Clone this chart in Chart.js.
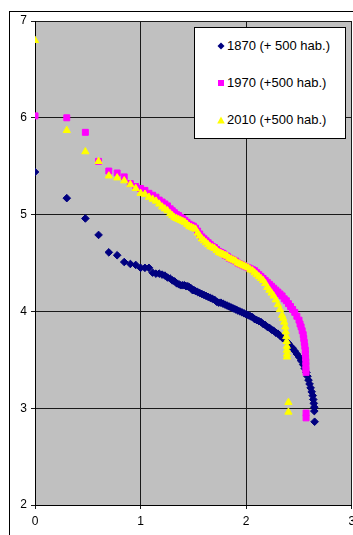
<!DOCTYPE html>
<html>
<head>
<meta charset="utf-8">
<script src="https://cdn.jsdelivr.net/npm/chart.js@4.4.1/dist/chart.umd.min.js"></script>
<style>
  html, body { margin: 0; padding: 0; background: #fff; overflow: hidden; }
  body { width: 353px; height: 535px; position: relative; font-family: "Liberation Sans", Arial, sans-serif; }
  #frame { position: absolute; left: 9px; top: 11px; width: 360px; height: 540px; border: 1px solid #000; box-sizing: border-box; }
  #chart { position: absolute; left: 0; top: 0; }
  #legend { position: absolute; left: 194px; top: 27px; width: 152px; height: 112px; background: #fff;
            border: 1px solid #000; box-sizing: border-box; }
  .item { position: absolute; left: 0; height: 16px; font-size: 13px; line-height: 16px; color: #000; white-space: nowrap; }
  .item svg { position: absolute; left: 22px; top: 4px; }
  .item span { position: absolute; left: 32px; top: 0; }
</style>
</head>
<body>
<div id="frame"></div>
<canvas id="chart" width="357" height="535"></canvas>
<div id="legend"></div>
<script>
// x = log10(rank), y = log10(population)
const seriesNames = ['1870 (+ 500 hab.)', '1970 (+500 hab.)', '2010 (+500 hab.)'];
const xTicks = [0, 1, 2, 3];
const yTicks = [2, 3, 4, 5, 6, 7];

const x1870 = [0, 0.301, 0.477, 0.602, 0.699, 0.778, 0.845, 0.903, 0.954, 1.0, 1.041, 1.079, 1.114, 1.146, 1.176,
  1.204, 1.23, 1.255, 1.279, 1.301, 1.322, 1.342, 1.362, 1.38, 1.398, 1.415, 1.431, 1.447, 1.462, 1.477, 1.491,
  1.505, 1.52, 1.54, 1.56, 1.58, 1.60, 1.62, 1.64, 1.66, 1.68, 1.70, 1.72, 1.74, 1.76, 1.78, 1.80, 1.82, 1.84,
  1.86, 1.88, 1.90, 1.92, 1.94, 1.96, 1.98, 2.00, 2.02, 2.04, 2.06, 2.08, 2.10, 2.12, 2.14, 2.16, 2.18, 2.20,
  2.22, 2.24, 2.26, 2.28, 2.30, 2.32, 2.34, 2.36, 2.38, 2.40, 2.42, 2.44, 2.46, 2.48, 2.50, 2.52, 2.54, 2.555,
  2.57, 2.58, 2.59, 2.60, 2.61, 2.62, 2.63, 2.635, 2.64, 2.645, 2.645, 2.648];
const y1870 = [5.44, 5.17, 4.96, 4.79, 4.61, 4.58, 4.51, 4.49, 4.48, 4.45, 4.45, 4.45, 4.40, 4.39, 4.39,
  4.38, 4.37, 4.35, 4.34, 4.32, 4.31, 4.29, 4.28, 4.27, 4.27, 4.27, 4.26, 4.26, 4.25, 4.24, 4.22,
  4.22, 4.21, 4.20, 4.19, 4.18, 4.17, 4.16, 4.15, 4.14, 4.13, 4.12, 4.10, 4.09, 4.09, 4.08, 4.07, 4.06, 4.05,
  4.04, 4.03, 4.02, 4.01, 4.00, 3.99, 3.98, 3.97, 3.96, 3.95, 3.94, 3.92, 3.91, 3.90, 3.89, 3.87, 3.86, 3.84,
  3.83, 3.81, 3.80, 3.78, 3.77, 3.75, 3.73, 3.71, 3.69, 3.67, 3.64, 3.62, 3.59, 3.56, 3.53, 3.49, 3.45, 3.41,
  3.37, 3.33, 3.29, 3.25, 3.21, 3.17, 3.13, 3.09, 3.05, 3.01, 2.97, 2.86];

const x1970 = [0, 0.301, 0.477, 0.602, 0.699, 0.778, 0.845, 0.903, 0.954, 1.0, 1.041, 1.079, 1.114, 1.146, 1.176,
  1.204, 1.23, 1.255, 1.28, 1.30, 1.32, 1.34, 1.36, 1.38, 1.40, 1.42, 1.44, 1.46, 1.48, 1.50, 1.52, 1.54, 1.56,
  1.58, 1.60, 1.62, 1.64, 1.66, 1.68, 1.70, 1.72, 1.74, 1.76, 1.78, 1.80, 1.82, 1.84, 1.86, 1.88, 1.90, 1.92,
  1.94, 1.96, 1.98, 2.00, 2.02, 2.04, 2.06, 2.08, 2.10, 2.12, 2.14, 2.16, 2.18, 2.20, 2.22, 2.24, 2.26, 2.28,
  2.30, 2.32, 2.34, 2.36, 2.38, 2.40, 2.42, 2.44, 2.46, 2.48, 2.50, 2.51, 2.52, 2.53, 2.54, 2.545, 2.55, 2.555,
  2.56, 2.56, 2.563, 2.565, 2.565, 2.565, 2.567, 2.567, 2.567];
const y1970 = [6.02, 6.00, 5.85, 5.55, 5.45, 5.43, 5.39, 5.32, 5.29, 5.27, 5.25, 5.22, 5.20, 5.18, 5.15,
  5.13, 5.11, 5.09, 5.06, 5.04, 5.02, 5.00, 4.99, 4.97, 4.96, 4.94, 4.92, 4.90, 4.89, 4.88, 4.86, 4.83, 4.80,
  4.77, 4.75, 4.73, 4.71, 4.69, 4.67, 4.66, 4.64, 4.62, 4.61, 4.60, 4.58, 4.57, 4.55, 4.54, 4.53, 4.52, 4.50,
  4.49, 4.48, 4.47, 4.46, 4.45, 4.44, 4.43, 4.42, 4.40, 4.38, 4.36, 4.34, 4.32, 4.30, 4.28, 4.26, 4.24, 4.22,
  4.20, 4.18, 4.16, 4.13, 4.11, 4.08, 4.05, 4.02, 3.99, 3.95, 3.91, 3.87, 3.84, 3.80, 3.76, 3.72, 3.68, 3.64,
  3.60, 3.56, 3.52, 3.48, 3.44, 3.40, 3.37, 2.95, 2.90];

const x2010 = [0, 0.301, 0.477, 0.602, 0.699, 0.778, 0.845, 0.903, 0.954, 1.0, 1.041, 1.079, 1.114, 1.146, 1.176,
  1.204, 1.23, 1.255, 1.28, 1.30, 1.32, 1.34, 1.36, 1.38, 1.40, 1.42, 1.44, 1.46, 1.48, 1.50, 1.52, 1.54, 1.56,
  1.58, 1.60, 1.62, 1.64, 1.66, 1.68, 1.70, 1.72, 1.74, 1.76, 1.78, 1.80, 1.82, 1.84, 1.86, 1.88, 1.90, 1.92,
  1.94, 1.96, 1.98, 2.00, 2.02, 2.04, 2.06, 2.08, 2.10, 2.12, 2.14, 2.16, 2.18, 2.20, 2.22, 2.24, 2.26, 2.28,
  2.30, 2.32, 2.34, 2.35, 2.36, 2.37, 2.375, 2.38, 2.383, 2.385, 2.385, 2.386, 2.386, 2.40, 2.40];
const y2010 = [6.80, 5.87, 5.65, 5.55, 5.40, 5.38, 5.35, 5.31, 5.27, 5.22, 5.21, 5.18, 5.16, 5.14, 5.11,
  5.08, 5.06, 5.04, 5.01, 4.99, 4.97, 4.96, 4.95, 4.94, 4.93, 4.92, 4.90, 4.88, 4.87, 4.86, 4.85, 4.81, 4.78,
  4.75, 4.73, 4.71, 4.69, 4.67, 4.66, 4.65, 4.63, 4.61, 4.60, 4.59, 4.58, 4.57, 4.55, 4.54, 4.53, 4.52, 4.50,
  4.49, 4.48, 4.47, 4.46, 4.45, 4.43, 4.42, 4.40, 4.38, 4.36, 4.34, 4.32, 4.29, 4.25, 4.22, 4.19, 4.16, 4.12,
  4.07, 4.02, 3.96, 3.93, 3.89, 3.84, 3.79, 3.74, 3.69, 3.64, 3.60, 3.56, 3.53, 3.06, 2.96];

const colors = ['#000080', '#ff00ff', '#ffff00'];
const shapes = ['rectRot', 'rect', 'triangle'];

const pts = (xs, ys) => xs.map((x, i) => ({ x, y: ys[i] }));

const plotBg = {
  id: 'plotBg',
  beforeDraw(chart) {
    const { ctx, chartArea: a } = chart;
    ctx.save();
    ctx.fillStyle = '#c0c0c0';
    ctx.fillRect(a.left, a.top, a.right - a.left, a.bottom - a.top);
    ctx.restore();
  }
};

const font = { family: '"Liberation Sans", Arial, sans-serif', size: 12 };

new Chart(document.getElementById('chart'), {
  type: 'scatter',
  data: {
    datasets: [
      { label: seriesNames[0], data: pts(x1870, y1870), order: 3, pointStyle: shapes[0], pointRadius: 3.8,
        backgroundColor: colors[0], borderColor: colors[0], borderWidth: 1 },
      { label: seriesNames[1], data: pts(x1970, y1970), order: 2, pointStyle: shapes[1], pointRadius: 4.2,
        backgroundColor: colors[1], borderColor: colors[1], borderWidth: 1 },
      { label: seriesNames[2], data: pts(x2010, y2010), order: 1, pointStyle: shapes[2], pointRadius: 4.2,
        backgroundColor: colors[2], borderColor: colors[2], borderWidth: 1 }
    ]
  },
  options: {
    responsive: false,
    animation: false,
    events: [],
    layout: { padding: { top: 21, right: 2, left: 0, bottom: 0 } },
    plugins: { legend: { display: false }, tooltip: { enabled: false } },
    scales: {
      x: {
        type: 'linear', min: xTicks[0], max: xTicks[xTicks.length - 1],
        afterBuildTicks: s => { s.ticks = xTicks.map(v => ({ value: v })); },
        afterFit: s => { s.height = 30; s.paddingLeft = 0; s.paddingRight = 0; },
        ticks: { color: '#000', font, padding: 5, maxRotation: 0 },
        grid: { color: '#1a1a1a', tickLength: 4, lineWidth: 1 },
        border: { color: '#000' }
      },
      y: {
        type: 'linear', min: yTicks[0], max: yTicks[yTicks.length - 1],
        afterBuildTicks: s => { s.ticks = yTicks.map(v => ({ value: v })); },
        afterFit: s => { s.width = 35; },
        ticks: { color: '#000', font, padding: 4 },
        grid: { color: '#1a1a1a', tickLength: 4, lineWidth: 1 },
        border: { color: '#000' }
      }
    }
  },
  plugins: [plotBg]
});

// legend box, Excel style
const markerSvg = [
  c => `<svg width="8" height="8"><polygon points="4,0.5 7.5,4 4,7.5 0.5,4" fill="${c}"/></svg>`,
  c => `<svg width="8" height="8"><rect x="1" y="1" width="6" height="6" fill="${c}"/></svg>`,
  c => `<svg width="8" height="8"><polygon points="4,0.5 7.8,7.5 0.2,7.5" fill="${c}"/></svg>`
];
const legendEl = document.getElementById('legend');
const itemTops = [10, 47, 84];
seriesNames.forEach((name, i) => {
  const row = document.createElement('div');
  row.className = 'item';
  row.style.top = itemTops[i] + 'px';
  row.innerHTML = markerSvg[i](colors[i]) + `<span>${name}</span>`;
  legendEl.appendChild(row);
});
</script>
</body>
</html>
